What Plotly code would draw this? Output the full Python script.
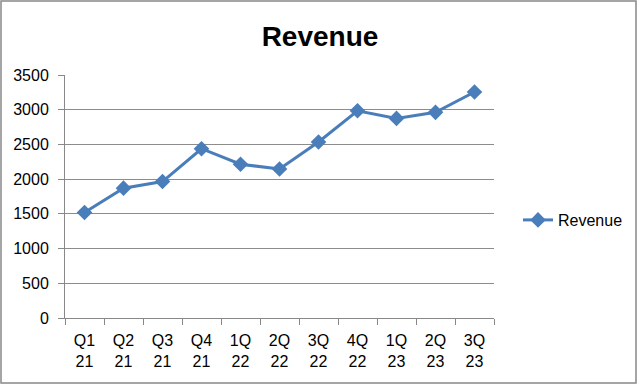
import plotly.graph_objects as go

categories = ["Q1<br>21", "Q2<br>21", "Q3<br>21", "Q4<br>21", "1Q<br>22", "2Q<br>22",
              "3Q<br>22", "4Q<br>22", "1Q<br>23", "2Q<br>23", "3Q<br>23"]
revenue = [1520, 1870, 1965, 2438, 2215, 2146, 2535, 2985, 2875, 2962, 3255]
y_ticks = [0, 500, 1000, 1500, 2000, 2500, 3000, 3500]

W, H = 640, 385
L, R, T, B = 65, 146, 75, 67
pw, ph = W - L - R, H - T - B

def px(x):
    return (x - L) / pw

def py(y):
    return (H - B - y) / ph

FONT = "Liberation Sans Narrow, Liberation Sans, sans-serif"
blue = "#4A7EBB"

fig = go.Figure()
fig.add_trace(go.Scatter(
    x=categories, y=revenue, mode="lines+markers", name="Revenue",
    line=dict(color=blue, width=3),
    marker=dict(symbol="diamond", size=12, color=blue),
))

fig.update_layout(
    width=W, height=H,
    margin=dict(l=L, r=R, t=T, b=B),
    paper_bgcolor="white", plot_bgcolor="white",
    font=dict(family=FONT, size=16, color="#000"),
    title=dict(text="<b>Revenue</b>", x=0.5, xanchor="center", y=1 - 36 / H, yanchor="middle",
               font=dict(family=FONT, size=28, color="#000")),
    showlegend=True,
    legend=dict(x=px(518), y=py(220), xanchor="left", yanchor="middle",
                font=dict(family=FONT, size=16), bgcolor="rgba(0,0,0,0)"),
    xaxis=dict(type="category", range=[-0.5, 10.5], showgrid=False,
               showline=True, linecolor="#888", linewidth=1,
               ticks="outside", tickson="boundaries", ticklen=6, tickcolor="#888",
               ticklabelstandoff=8,
               tickfont=dict(family=FONT, size=16), fixedrange=True),
    yaxis=dict(range=[0, 3500], tickvals=y_ticks, showgrid=True, gridcolor="#8c8c8c", gridwidth=1,
               showline=True, linecolor="#888", linewidth=1, zeroline=False,
               ticks="outside", ticklen=6, tickcolor="#888",
               ticklabelstandoff=6,
               tickfont=dict(family=FONT, size=16)),
    shapes=[dict(type="rect", xref="paper", yref="paper",
                 x0=px(1), x1=px(636), y0=py(1), y1=py(383),
                 line=dict(color="#888", width=1.5), fillcolor="rgba(0,0,0,0)", layer="below")],
)

fig.write_html("out.html", config={"displayModeBar": False},
               post_script="document.body.style.margin='0';document.body.style.overflow='hidden';")
